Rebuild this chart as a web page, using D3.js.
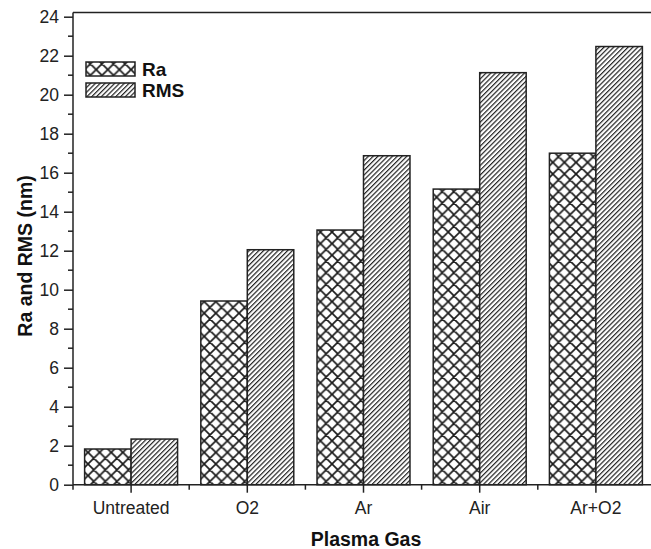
<!DOCTYPE html>
<html>
<head>
<meta charset="utf-8">
<script src="https://cdn.jsdelivr.net/npm/d3@7"></script>
<style>
  html, body { margin: 0; padding: 0; background: #fff; }
  svg { display: block; }
  text { font-family: "Liberation Sans", Arial, sans-serif; }
</style>
</head>
<body>
<svg id="chart" width="651" height="549"></svg>
<script>
// Surface roughness by plasma treatment gas
const categories = ["Untreated", "O2", "Ar", "Air", "Ar+O2"];
const seriesNames = ["Ra", "RMS"];
const raValues = [1.83, 9.42, 13.06, 15.16, 17.0];
const rmsValues = [2.34, 12.05, 16.87, 21.13, 22.47];
const yTicks = [0, 2, 4, 6, 8, 10, 12, 14, 16, 18, 20, 22, 24];
const yMinorTicks = [1, 3, 5, 7, 9, 11, 13, 15, 17, 19, 21, 23];

const svg = d3.select("#chart");
const W = 651, H = 549;
const left = 73, right = 654, bottom = 484.7, top24 = 16.7, frameTop = 12.5;
const ink = "#222";

svg.append("rect").attr("width", W).attr("height", H).attr("fill", "#fff");

// Fill patterns
const defs = svg.append("defs");
const cross = defs.append("pattern")
  .attr("id", "crosshatch")
  .attr("patternUnits", "userSpaceOnUse")
  .attr("width", 11.6).attr("height", 11.6)
  .attr("x", 84.6).attr("y", 0);
cross.append("rect").attr("width", 11.6).attr("height", 11.6).attr("fill", "#fff");
cross.append("path")
  .attr("d", "M0,0L11.6,11.6M11.6,0L0,11.6M-1,10.6L1,12.6M10.6,-1L12.6,1M-1,1L1,-1M10.6,12.6L12.6,10.6")
  .attr("stroke", "#1a1a1a").attr("stroke-width", 1.7).attr("fill", "none");

const diag = defs.append("pattern")
  .attr("id", "diagonal")
  .attr("patternUnits", "userSpaceOnUse")
  .attr("width", 3.4).attr("height", 3.4)
  .attr("patternTransform", "rotate(45)");
diag.append("rect").attr("width", 3.4).attr("height", 3.4).attr("fill", "#fff");
diag.append("line")
  .attr("x1", 0).attr("y1", 0).attr("x2", 0).attr("y2", 3.4)
  .attr("stroke", ink).attr("stroke-width", 2.4);

const fills = { Ra: "url(#crosshatch)", RMS: "url(#diagonal)" };

// Scales
const x = d3.scaleBand().domain(categories).range([left, right])
  .paddingInner(0.2).paddingOuter(0.1);
const xs = d3.scaleBand().domain(seriesNames).range([0, x.bandwidth()]).padding(0);
const y = d3.scaleLinear().domain([0, 24]).range([bottom, top24]);

const rows = categories.map((c, i) => ({ cat: c, Ra: raValues[i], RMS: rmsValues[i] }));

// Bars
const groups = svg.append("g").selectAll("g").data(rows).join("g")
  .attr("transform", d => `translate(${x(d.cat)},0)`);
groups.selectAll("rect")
  .data(d => seriesNames.map(s => ({ s, v: d[s] })))
  .join("rect")
  .attr("x", d => xs(d.s))
  .attr("width", xs.bandwidth())
  .attr("y", d => y(d.v))
  .attr("height", d => y(0) - y(d.v))
  .attr("fill", d => fills[d.s])
  .attr("stroke", ink)
  .attr("stroke-width", 1.5);

// Frame top line
svg.append("line")
  .attr("x1", left).attr("x2", W + 5)
  .attr("y1", frameTop).attr("y2", frameTop)
  .attr("stroke", ink).attr("stroke-width", 1.5);

// Y axis
const yAxis = svg.append("g")
  .attr("transform", `translate(${left},0)`)
  .call(d3.axisLeft(y).tickValues(yTicks).tickSize(9).tickPadding(5).tickFormat(d3.format("d")));
yAxis.select(".domain").attr("d", `M0,${frameTop}V${bottom}`);
yAxis.selectAll("line, path").attr("stroke", ink).attr("stroke-width", 1.5);
yAxis.selectAll("text").attr("font-size", 17.5).attr("fill", ink);
yAxis.append("g").selectAll("line").data(yMinorTicks).join("line")
  .attr("x1", -5).attr("x2", 0)
  .attr("y1", d => y(d)).attr("y2", d => y(d))
  .attr("stroke", ink).attr("stroke-width", 1.5);

// X axis
const xAxis = svg.append("g")
  .attr("transform", `translate(0,${bottom})`)
  .call(d3.axisBottom(x).tickSize(8).tickPadding(9));
xAxis.select(".domain").attr("d", `M${left},0H${W + 5}`);
xAxis.selectAll("line, path").attr("stroke", ink).attr("stroke-width", 1.5);
xAxis.selectAll("text").attr("font-size", 17.5).attr("fill", ink);
const step = x.step();
xAxis.append("g").selectAll("line").data(d3.range(categories.length + 1)).join("line")
  .attr("x1", i => left + i * step).attr("x2", i => left + i * step)
  .attr("y1", 0).attr("y2", 5)
  .attr("stroke", ink).attr("stroke-width", 1.5);

// Axis titles
svg.append("text")
  .attr("x", 366).attr("y", 546)
  .attr("text-anchor", "middle")
  .attr("font-size", 19.5).attr("font-weight", "bold").attr("fill", "#111")
  .text("Plasma Gas");
svg.append("text")
  .attr("transform", "translate(32,256) rotate(-90)")
  .attr("text-anchor", "middle")
  .attr("font-size", 19.5).attr("font-weight", "bold").attr("fill", "#111")
  .text("Ra and RMS (nm)");

// Legend
const legend = svg.append("g");
seriesNames.forEach((s, i) => {
  const ly = 62 + i * 21;
  legend.append("rect")
    .attr("x", 86).attr("y", ly).attr("width", 49).attr("height", 14)
    .attr("fill", fills[s]).attr("stroke", ink).attr("stroke-width", 1.5);
  legend.append("text")
    .attr("x", 142).attr("y", ly + 14)
    .attr("font-size", 19).attr("font-weight", "bold").attr("fill", "#111")
    .text(s);
});
</script>
</body>
</html>
